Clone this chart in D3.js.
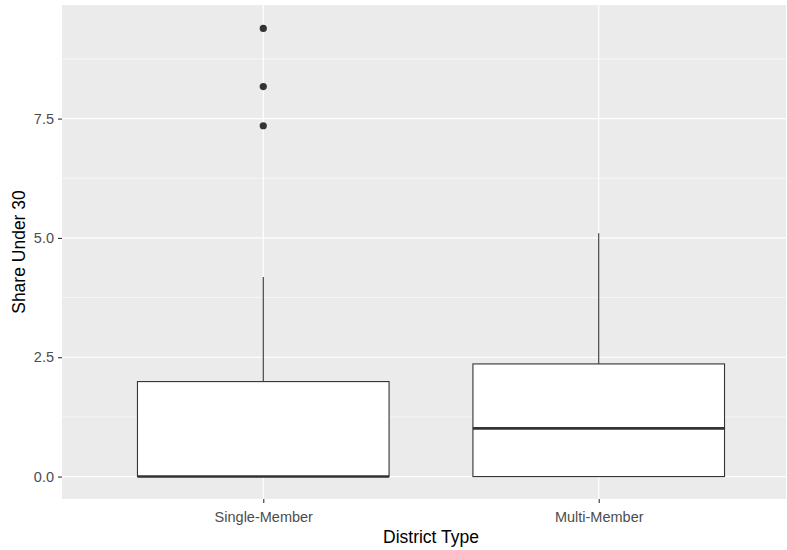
<!DOCTYPE html>
<html>
<head>
<meta charset="utf-8">
<script src="https://cdn.jsdelivr.net/npm/d3@7"></script>
<style>
  body { margin: 0; background: #fff; }
  text { font-family: "Liberation Sans", Arial, sans-serif; }
</style>
</head>
<body>
<div id="chart"></div>
<script>
// values
const categories = ["Single-Member", "Multi-Member"];
const whiskerLow = [0, 0];
const q1 = [0, 0];
const median = [0, 1.01];
const q3 = [1.99, 2.36];
const whiskerHigh = [4.18, 5.10];
const outliers = [[7.35, 8.17, 9.39], []];
const yTicks = [0, 2.5, 5, 7.5];
const yMinor = [1.25, 3.75, 6.25, 8.75];

const W = 787, H = 550;
const panel = { left: 62, right: 800, top: 5, bottom: 499 };

const svg = d3.select("#chart").append("svg")
    .attr("width", W)
    .attr("height", H);

// x and y scales
const x = d3.scalePoint()
    .domain(categories)
    .range([panel.left, panel.right])
    .padding(0.6);

const y = d3.scaleLinear()
    .domain([-0.47, 9.88])
    .range([panel.bottom, panel.top]);

const boxW = x.step() * 0.75;

// panel background
svg.append("rect")
    .attr("x", panel.left)
    .attr("y", panel.top)
    .attr("width", Math.min(panel.right, 786) - panel.left)
    .attr("height", panel.bottom - panel.top)
    .attr("fill", "#ebebeb");

const grid = svg.append("g");
grid.selectAll(".minor").data(yMinor).join("line")
    .attr("x1", panel.left).attr("x2", 786)
    .attr("y1", d => y(d)).attr("y2", d => y(d))
    .attr("stroke", "#fff").attr("stroke-width", 0.6);
grid.selectAll(".major").data(yTicks).join("line")
    .attr("x1", panel.left).attr("x2", 786)
    .attr("y1", d => y(d)).attr("y2", d => y(d))
    .attr("stroke", "#fff").attr("stroke-width", 1.2);
grid.selectAll(".vmajor").data(categories).join("line")
    .attr("x1", d => x(d)).attr("x2", d => x(d))
    .attr("y1", panel.top).attr("y2", panel.bottom)
    .attr("stroke", "#fff").attr("stroke-width", 1.2);

// boxplots
const boxes = svg.append("g")
    .selectAll("g")
    .data(categories)
    .join("g");

boxes.append("line")
    .attr("x1", d => x(d)).attr("x2", d => x(d))
    .attr("y1", (d, i) => y(q3[i])).attr("y2", (d, i) => y(whiskerHigh[i]))
    .attr("stroke", "#333").attr("stroke-width", 1.1);

boxes.append("line")
    .attr("x1", d => x(d)).attr("x2", d => x(d))
    .attr("y1", (d, i) => y(q1[i])).attr("y2", (d, i) => y(whiskerLow[i]))
    .attr("stroke", "#333").attr("stroke-width", 1.1);

boxes.append("rect")
    .attr("x", d => x(d) - boxW / 2)
    .attr("width", boxW)
    .attr("y", (d, i) => y(q3[i]))
    .attr("height", (d, i) => y(q1[i]) - y(q3[i]))
    .attr("fill", "#fff")
    .attr("stroke", "#333")
    .attr("stroke-width", 1.1);

boxes.append("line")
    .attr("x1", d => x(d) - boxW / 2).attr("x2", d => x(d) + boxW / 2)
    .attr("y1", (d, i) => y(median[i])).attr("y2", (d, i) => y(median[i]))
    .attr("stroke", "#333").attr("stroke-width", 2.6);

boxes.each(function(d, i) {
    d3.select(this).selectAll("circle")
        .data(outliers[i])
        .join("circle")
        .attr("cx", x(d))
        .attr("cy", v => y(v))
        .attr("r", 3.6)
        .attr("fill", "#333");
});

// axes
const yAxis = svg.append("g")
    .attr("transform", `translate(${panel.left},0)`)
    .call(d3.axisLeft(y).tickValues(yTicks).tickFormat(d3.format(".1f")).tickSize(4).tickPadding(4));
yAxis.select(".domain").remove();
yAxis.selectAll("line").attr("stroke", "#333").attr("stroke-width", 1.1);
yAxis.selectAll("text").attr("fill", "#4d4d4d").style("font-size", "14.5px");

const xAxis = svg.append("g")
    .attr("transform", `translate(0,${panel.bottom})`)
    .call(d3.axisBottom(x).tickSize(4).tickPadding(9));
xAxis.select(".domain").remove();
xAxis.selectAll("line").attr("stroke", "#333").attr("stroke-width", 1.1);
xAxis.selectAll("text").attr("fill", "#4d4d4d").style("font-size", "14.5px");

// titles
svg.append("text")
    .attr("x", (panel.left + panel.right) / 2)
    .attr("y", 543)
    .attr("text-anchor", "middle")
    .style("font-size", "17.5px")
    .attr("fill", "#000")
    .text("District Type");

svg.append("text")
    .attr("transform", `translate(25,${(panel.top + panel.bottom) / 2}) rotate(-90)`)
    .attr("text-anchor", "middle")
    .style("font-size", "17.5px")
    .attr("fill", "#000")
    .text("Share Under 30");
</script>
</body>
</html>
